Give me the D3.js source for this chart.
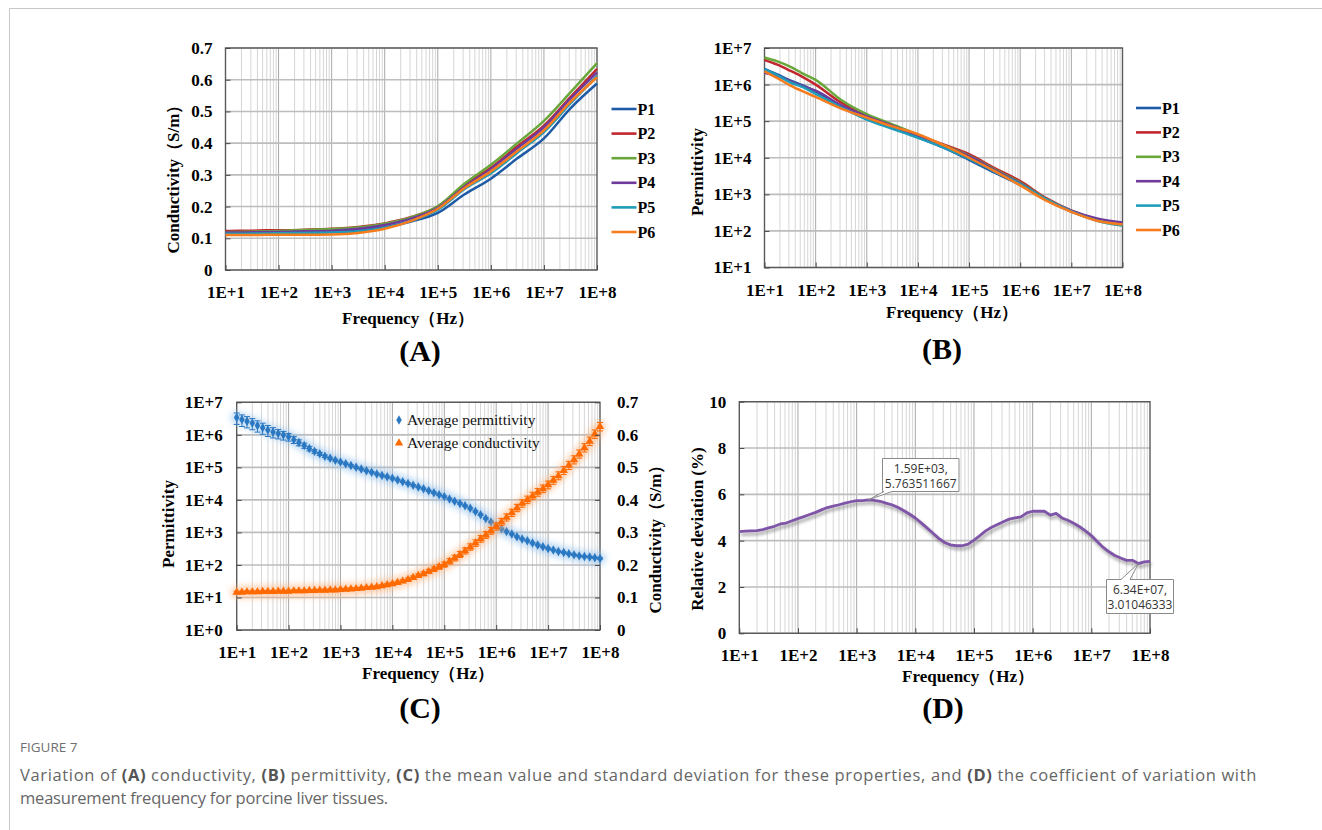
<!DOCTYPE html>
<html><head><meta charset="utf-8">
<script src="https://cdn.jsdelivr.net/npm/d3@7"></script>
<style>body{margin:0;background:#fff}svg{display:block}</style>
</head><body>
<script>
// ---------------- DATA ----------------
const freqAB = [10, 17.8, 31.6, 56.2, 100, 316, 1000, 3162, 1e4, 31623, 1e5, 316228, 1e6, 3162278, 1e7, 31622777, 1e8];
const sampleNames = ["P1","P2","P3","P4","P5","P6"];
const condP1 = [0.120,0.120,0.121,0.121,0.121,0.122,0.122,0.125,0.135,0.153,0.180,0.238,0.288,0.352,0.415,0.510,0.588];
const condP2 = [0.123,0.124,0.124,0.125,0.125,0.127,0.130,0.136,0.147,0.167,0.200,0.268,0.322,0.390,0.455,0.545,0.634];
const condP3 = [0.119,0.120,0.121,0.122,0.123,0.126,0.129,0.134,0.146,0.166,0.201,0.272,0.332,0.400,0.470,0.560,0.652];
const condP4 = [0.118,0.118,0.119,0.120,0.120,0.122,0.124,0.130,0.142,0.162,0.196,0.262,0.318,0.384,0.450,0.540,0.623];
const condP5 = [0.114,0.114,0.115,0.115,0.116,0.117,0.118,0.122,0.133,0.155,0.190,0.255,0.305,0.370,0.435,0.525,0.612];
const condP6 = [0.110,0.110,0.110,0.111,0.111,0.111,0.112,0.117,0.130,0.155,0.193,0.258,0.311,0.375,0.440,0.530,0.608];
const permP1 = [2.7e6,1.9e6,1.3e6,9.5e5,6.5e5,2.6e5,1.15e5,6.5e4,3.6e4,1.9e4,8.8e3,3.9e3,1.8e3,7.2e2,3.4e2,2.0e2,1.5e2];
const permP2 = [4.7e6,3.5e6,2.4e6,1.6e6,1.0e6,3.2e5,1.4e5,7.8e4,4.2e4,2.3e4,1.25e4,5.2e3,2.3e3,8.0e2,3.6e2,2.1e2,1.6e2];
const permP3 = [5.5e6,4.3e6,3.1e6,2.0e6,1.35e6,3.8e5,1.55e5,8.2e4,4.3e4,2.2e4,1.15e4,4.8e3,2.1e3,7.6e2,3.5e2,2.0e2,1.55e2];
const permP4 = [2.1e6,1.7e6,1.25e6,9.0e5,6.8e5,2.7e5,1.35e5,7.5e4,4.0e4,2.1e4,1.1e4,4.6e3,2.0e3,7.4e2,3.6e2,2.2e2,1.7e2];
const permP5 = [2.6e6,1.8e6,1.15e6,8.5e5,5.6e5,2.4e5,1.1e5,6.2e4,3.5e4,1.9e4,9.5e3,4.2e3,1.9e3,7.4e2,3.4e2,1.9e2,1.4e2];
const permP6 = [2.3e6,1.5e6,9.5e5,6.5e5,4.6e5,2.2e5,1.25e5,7.2e4,4.4e4,2.2e4,1.0e4,4.3e3,1.75e3,6.8e2,3.3e2,1.9e2,1.5e2];

const freqCD = [
 1e1,1.26e1,1.58e1,2e1,2.51e1,3.16e1,3.98e1,5.01e1,6.31e1,7.94e1,
 1e2,1.26e2,1.58e2,2e2,2.51e2,3.16e2,3.98e2,5.01e2,6.31e2,7.94e2,
 1e3,1.26e3,1.59e3,2e3,2.51e3,3.16e3,3.98e3,5.01e3,6.31e3,7.94e3,
 1e4,1.26e4,1.58e4,2e4,2.51e4,3.16e4,3.98e4,5.01e4,6.31e4,7.94e4,
 1e5,1.26e5,1.58e5,2e5,2.51e5,3.16e5,3.98e5,5.01e5,6.31e5,7.94e5,
 1e6,1.26e6,1.58e6,2e6,2.51e6,3.16e6,3.98e6,5.01e6,6.31e6,7.94e6,
 1e7,1.26e7,1.58e7,2e7,2.51e7,3.16e7,3.98e7,5.01e7,6.34e7,7.94e7,
 1e8];
const permMean = [
 3.39e6,2.95e6,2.63e6,2.29e6,1.95e6,1.66e6,1.41e6,1.23e6,1.10e6,9.8e5,
 8.7e5,7.1e5,5.8e5,4.7e5,3.8e5,3.1e5,2.6e5,2.2e5,1.9e5,1.66e5,
 1.45e5,1.29e5,1.15e5,1.0e5,8.9e4,7.9e4,7.1e4,6.3e4,5.6e4,5.1e4,
 4.6e4,4.1e4,3.6e4,3.2e4,2.8e4,2.5e4,2.2e4,1.9e4,1.66e4,1.45e4,
 1.26e4,1.07e4,9.1e3,7.8e3,6.6e3,5.5e3,4.4e3,3.5e3,2.7e3,2.1e3,
 1.6e3,1.29e3,1.07e3,890,740,630,550,470,410,360,
 320,290,260,240,220,204,190,182,174,166,
 158];
const permSD = [
 1.3e6,1.15e6,1.0e6,8.6e5,7.4e5,6.2e5,5.2e5,4.3e5,3.5e5,2.9e5,
 2.3e5,1.7e5,1.2e5,8.5e4,6.0e4,4.0e4,2.8e4,2.0e4,1.4e4,1.0e4,
 8.0e3,7.0e3,6.2e3,5.4e3,4.8e3,4.3e3,3.8e3,3.4e3,3.0e3,2.7e3,
 2.4e3,2.1e3,1.8e3,1.6e3,1.4e3,1.25e3,1.1e3,950,830,730,
 630,540,460,390,330,280,230,180,140,110,
 85,68,56,46,38,32,28,24,21,18,
 16,14,13,12,11,10,9.5,9,8.5,8.3,
 8];
const condMean = [
 0.116,0.116,0.117,0.117,0.117,0.118,0.118,0.118,0.119,0.119,
 0.119,0.120,0.120,0.120,0.121,0.121,0.122,0.122,0.123,0.123,
 0.124,0.125,0.126,0.127,0.128,0.130,0.131,0.133,0.136,0.139,
 0.142,0.146,0.150,0.155,0.161,0.167,0.173,0.180,0.187,0.194,
 0.201,0.211,0.221,0.232,0.243,0.255,0.267,0.280,0.292,0.305,
 0.318,0.332,0.346,0.360,0.375,0.389,0.400,0.412,0.423,0.434,
 0.446,0.460,0.474,0.490,0.506,0.523,0.541,0.560,0.580,0.602,
 0.625];
const condSD = [
 0.003,0.003,0.003,0.003,0.003,0.003,0.003,0.003,0.003,0.003,
 0.003,0.003,0.003,0.003,0.003,0.003,0.003,0.003,0.003,0.003,
 0.0035,0.0035,0.0035,0.0035,0.0035,0.0035,0.0035,0.0035,0.0035,0.0035,
 0.004,0.0042,0.0045,0.0048,0.005,0.0055,0.006,0.0065,0.007,0.0075,
 0.008,0.0085,0.009,0.0092,0.0095,0.0098,0.010,0.0102,0.0105,0.0105,
 0.011,0.011,0.011,0.0112,0.0112,0.0115,0.0115,0.0115,0.0118,0.0118,
 0.012,0.012,0.0122,0.0122,0.0125,0.0125,0.0125,0.0128,0.0128,0.013,
 0.013];
const relDev = [
 4.39,4.41,4.42,4.43,4.48,4.55,4.62,4.72,4.76,4.86,
 4.95,5.04,5.13,5.22,5.33,5.43,5.49,5.55,5.62,5.68,
 5.73,5.73,5.763511667,5.74,5.70,5.62,5.55,5.44,5.30,5.15,
 4.98,4.77,4.55,4.32,4.10,3.92,3.82,3.78,3.78,3.85,
 4.02,4.22,4.42,4.58,4.70,4.82,4.93,4.98,5.03,5.20,
 5.27,5.27,5.27,5.10,5.18,4.98,4.88,4.75,4.60,4.42,
 4.22,3.96,3.72,3.52,3.36,3.25,3.15,3.15,3.01046333,3.08,
 3.11];

const xTickVals = [1e1,1e2,1e3,1e4,1e5,1e6,1e7,1e8];
const condTicks = [0,0.1,0.2,0.3,0.4,0.5,0.6,0.7];
const permTicksB = [1e1,1e2,1e3,1e4,1e5,1e6,1e7];
const permTicksC = [1e0,1e1,1e2,1e3,1e4,1e5,1e6,1e7];
const devTicks = [0,2,4,6,8,10];
const seriesColors = ["#1f5aa6","#c0282e","#6aa73a","#6e3b9c","#1e9cb8","#f77c1e"];
const blueC = "#2b78c2", orangeC = "#ff6a00", purpleD = "#7f55a8";

// ---------------- SETUP ----------------
const W = 1322, H = 830;
const SERIF = "'Liberation Serif','Times New Roman',serif";
const SANS = "'Open Sans','Noto Sans',sans-serif";
const svg = d3.select("body").append("svg").attr("width", W).attr("height", H);
svg.append("rect").attr("width", W).attr("height", H).attr("fill", "#fff");
const defs = svg.append("defs");
defs.append("filter").attr("id","glow").attr("x","-10%").attr("y","-10%").attr("width","120%").attr("height","120%")
  .append("feGaussianBlur").attr("stdDeviation", 3);
defs.append("filter").attr("id","shadow").attr("x","-10%").attr("y","-20%").attr("width","120%").attr("height","140%")
  .append("feGaussianBlur").attr("stdDeviation", 1.6);

// outer frame
svg.append("line").attr("x1",9.5).attr("x2",W).attr("y1",8.5).attr("y2",8.5).attr("stroke","#c8c8c8");
svg.append("line").attr("x1",9.5).attr("x2",9.5).attr("y1",8.5).attr("y2",H).attr("stroke","#c8c8c8");

const fmtE = d => "1E+" + Math.round(Math.log10(d));

function frame(x, y, yTicks, x0, x1, y0, y1) {
  const g = svg.append("g");
  const minor = x.ticks().filter(d => Math.abs(Math.log10(d) - Math.round(Math.log10(d))) > 1e-6);
  g.selectAll(".mn").data(minor).join("line")
    .attr("x1", d => x(d)).attr("x2", d => x(d)).attr("y1", y0).attr("y2", y1)
    .attr("stroke", "#d6d6d6").attr("stroke-width", 1);
  g.selectAll(".mj").data(xTickVals.slice(1, -1)).join("line")
    .attr("x1", d => x(d)).attr("x2", d => x(d)).attr("y1", y0).attr("y2", y1)
    .attr("stroke", "#a8a8a8").attr("stroke-width", 1);
  g.selectAll(".hz").data(yTicks).join("line")
    .attr("x1", x0).attr("x2", x1).attr("y1", d => y(d)).attr("y2", d => y(d))
    .attr("stroke", "#bdbdbd").attr("stroke-width", 1.6);
  g.append("rect").attr("x", x0).attr("y", y0).attr("width", x1 - x0).attr("height", y1 - y0)
    .attr("fill", "none").attr("stroke", "#5a5a5a").attr("stroke-width", 1.4);
  return g;
}
function styleAxis(sel) {
  sel.select(".domain").remove();
  sel.attr("font-family", SERIF).attr("font-size", 17).attr("font-weight", "bold").attr("color", "#4a4a4a");
  sel.selectAll("text").attr("fill", "#000");
}
function bottomAxis(x, y1) {
  svg.append("g").attr("transform", `translate(0,${y1})`)
    .call(d3.axisBottom(x).tickValues(xTickVals).tickFormat(fmtE).tickSizeInner(-5).tickSizeOuter(0).tickPadding(16))
    .call(styleAxis);
}
function leftAxis(y, x0, ticks, fmt, pad) {
  svg.append("g").attr("transform", `translate(${x0},0)`)
    .call(d3.axisLeft(y).tickValues(ticks).tickFormat(fmt).tickSizeInner(-5).tickSizeOuter(0).tickPadding(pad))
    .call(styleAxis);
}
function label(txt, x, y, size, rot) {
  const t = svg.append("text").attr("x", x).attr("y", y).attr("text-anchor", "middle").attr("dy", "0.35em")
    .attr("font-family", SERIF).attr("font-weight", "bold").attr("font-size", size).attr("fill", "#000").text(txt);
  if (rot) t.attr("transform", `rotate(-90,${x},${y})`);
  return t;
}
function legend(names, colors, lx, ly0, step) {
  names.forEach((n, i) => {
    const yy = ly0 + i * step;
    svg.append("line").attr("x1", lx).attr("x2", lx + 25).attr("y1", yy).attr("y2", yy)
      .attr("stroke", colors[i]).attr("stroke-width", 2.6);
    svg.append("text").attr("x", lx + 26).attr("y", yy).attr("dy", "0.35em").attr("font-family", SERIF)
      .attr("font-weight", "bold").attr("font-size", 16).text(n);
  });
}

// ---------------- PANEL A ----------------
{
  const x0 = 225.5, x1 = 597, y0 = 48, y1 = 270;
  const x = d3.scaleLog().domain([10, 1e8]).range([x0, x1]);
  const y = d3.scaleLinear().domain([0, 0.7]).range([y1, y0]);
  frame(x, y, condTicks, x0, x1, y0, y1);
  const series = [condP1, condP2, condP3, condP4, condP5, condP6];
  const line = d3.line().x((d, i) => x(freqAB[i])).y(d => y(d)).curve(d3.curveMonotoneX);
  series.forEach((s, k) => svg.append("path").attr("d", line(s)).attr("fill", "none")
    .attr("stroke", seriesColors[k]).attr("stroke-width", 2.5));
  bottomAxis(x, y1);
  leftAxis(y, x0, condTicks, d => d === 0 ? "0" : d3.format(".1f")(d), 13);
  legend(sampleNames, seriesColors, 611.5, 109, 24.6);
  label("Frequency\uFF08Hz\uFF09", 408, 318, 17);
  label("Conductivity\uFF08S/m\uFF09", 173, 175, 17, true);
  label("(A)", 420, 350, 30);
}

// ---------------- PANEL B ----------------
{
  const x0 = 764.5, x1 = 1122.5, y0 = 48, y1 = 267.5;
  const x = d3.scaleLog().domain([10, 1e8]).range([x0, x1]);
  const y = d3.scaleLog().domain([10, 1e7]).range([y1, y0]);
  frame(x, y, permTicksB, x0, x1, y0, y1);
  const series = [permP1, permP2, permP3, permP4, permP5, permP6];
  const line = d3.line().x((d, i) => x(freqAB[i])).y(d => y(d)).curve(d3.curveMonotoneX);
  series.forEach((s, k) => svg.append("path").attr("d", line(s)).attr("fill", "none")
    .attr("stroke", seriesColors[k]).attr("stroke-width", 2.5));
  bottomAxis(x, y1);
  leftAxis(y, x0, permTicksB, fmtE, 13);
  legend(sampleNames, seriesColors, 1136, 108, 24.4);
  label("Frequency\uFF08Hz\uFF09", 952, 312, 17);
  label("Permittivity", 697, 172, 17, true);
  label("(B)", 942, 348, 30);
}

// ---------------- PANEL C ----------------
{
  const x0 = 236.7, x1 = 600, y0 = 402.3, y1 = 630;
  const x = d3.scaleLog().domain([10, 1e8]).range([x0, x1]);
  const yL = d3.scaleLog().domain([1, 1e7]).range([y1, y0]);
  const yR = d3.scaleLinear().domain([0, 0.7]).range([y1, y0]);
  frame(x, yL, permTicksC, x0, x1, y0, y1);

  const drawSeries = (mean, sd, ys, color, glowColor, sym, symSize, capW) => {
    const line = d3.line().x((d, i) => x(freqCD[i])).y(d => ys(d));
    svg.append("path").attr("d", line(mean)).attr("fill", "none").attr("stroke", glowColor)
      .attr("stroke-width", 12).attr("stroke-linecap", "round").attr("opacity", 0.6).attr("filter", "url(#glow)");
    const g = svg.append("g");
    mean.forEach((m, i) => {
      const cx = x(freqCD[i]), ya = ys(m + sd[i]), yb = ys(m - sd[i]);
      g.append("line").attr("x1", cx).attr("x2", cx).attr("y1", ya).attr("y2", yb).attr("stroke", color).attr("stroke-width", 1);
      g.append("line").attr("x1", cx - capW).attr("x2", cx + capW).attr("y1", ya).attr("y2", ya).attr("stroke", color).attr("stroke-width", 1);
      g.append("line").attr("x1", cx - capW).attr("x2", cx + capW).attr("y1", yb).attr("y2", yb).attr("stroke", color).attr("stroke-width", 1);
    });
    g.selectAll("path.m").data(mean).join("path")
      .attr("transform", (d, i) => `translate(${x(freqCD[i])},${ys(d)})`)
      .attr("d", d3.symbol(sym, symSize)).attr("fill", color);
  };
  drawSeries(permMean, permSD, yL, blueC, "#8fc0ee", d3.symbolDiamond, 26, 3);
  drawSeries(condMean, condSD, yR, orangeC, "#ffb27a", d3.symbolTriangle, 30, 3);

  bottomAxis(x, y1);
  leftAxis(yL, x0, permTicksC, d => "1E+" + Math.round(Math.log10(d)), 14);
  svg.append("g").attr("transform", `translate(${x1},0)`)
    .call(d3.axisRight(yR).tickValues(condTicks).tickFormat(d => d === 0 ? "0" : d3.format(".1f")(d))
      .tickSizeInner(-5).tickSizeOuter(0).tickPadding(17))
    .call(styleAxis);

  // legend
  svg.append("path").attr("transform", "translate(399,420)").attr("d", d3.symbol(d3.symbolDiamond, 26)()).attr("fill", blueC);
  svg.append("text").attr("x", 407).attr("y", 420).attr("dy", "0.35em").attr("font-family", SERIF)
    .attr("font-size", 15.5).attr("fill", "#111").text("Average permittivity");
  svg.append("path").attr("transform", "translate(399,443)").attr("d", d3.symbol(d3.symbolTriangle, 30)()).attr("fill", orangeC);
  svg.append("text").attr("x", 407).attr("y", 443).attr("dy", "0.35em").attr("font-family", SERIF)
    .attr("font-size", 15.5).attr("fill", "#111").text("Average conductivity");

  label("Frequency\uFF08Hz\uFF09", 428, 673, 17);
  label("Permittivity", 168, 524, 17, true);
  label("Conductivity\uFF08S/m\uFF09", 655, 535, 17, true);
  label("(C)", 420, 707, 30);
}

// ---------------- PANEL D ----------------
{
  const x0 = 739.3, x1 = 1150, y0 = 401.7, y1 = 633.3;
  const x = d3.scaleLog().domain([10, 1e8]).range([x0, x1]);
  const y = d3.scaleLinear().domain([0, 10]).range([y1, y0]);
  frame(x, y, devTicks, x0, x1, y0, y1);
  const line = d3.line().x((d, i) => x(freqCD[i])).y(d => y(d));
  svg.append("path").attr("d", line(relDev)).attr("transform", "translate(1.5,3)").attr("fill", "none")
    .attr("stroke", "#7a7a7a").attr("stroke-width", 3.5).attr("opacity", 0.55).attr("filter", "url(#shadow)");
  svg.append("path").attr("d", line(relDev)).attr("fill", "none").attr("stroke", purpleD)
    .attr("stroke-width", 2.8).attr("stroke-linejoin", "round");
  bottomAxis(x, y1);
  leftAxis(y, x0, devTicks, d => String(d), 13);

  const callout = (idx, bx, by, bw, bh, px1, px2, pointerSide, lines) => {
    const tx = x(freqCD[idx]), ty = y(relDev[idx]);
    let p;
    if (pointerSide === "bottom") {
      p = `M${bx},${by} H${bx + bw} V${by + bh} H${px2} L${tx},${ty} L${px1},${by + bh} H${bx} Z`;
    } else {
      p = `M${bx},${by} H${px1} L${tx},${ty} L${px2},${by} H${bx + bw} V${by + bh} H${bx} Z`;
    }
    svg.append("path").attr("d", p).attr("fill", "#fff").attr("stroke", "#8a8a8a").attr("stroke-width", 1);
    lines.forEach((t, k) => svg.append("text").attr("x", bx + bw / 2).attr("y", by + 10 + k * 15).attr("dy", "0.35em")
      .attr("text-anchor", "middle").attr("font-family", SANS).attr("font-size", 12).attr("fill", "#333").text(t));
  };
  callout(22, 882.5, 458.5, 76.5, 33, 884, 892, "bottom", ["1.59E+03,", "5.763511667"]);
  callout(68, 1106.5, 579.5, 67, 34, 1121, 1130, "top", ["6.34E+07,", "3.01046333"]);

  label("Frequency\uFF08Hz\uFF09", 968, 676, 17);
  label("Relative deviation (%)", 697, 529, 17, true);
  label("(D)", 943, 707, 30);
}

// ---------------- CAPTION ----------------
svg.append("text").attr("x", 20).attr("y", 752).attr("font-family", SANS).attr("font-size", 13.5)
  .attr("fill", "#6f6f6f").text("FIGURE 7");
function fitText(t, target) {
  const w = t.node().getComputedTextLength();
  const n = t.text().length;
  if (n > 1) t.attr("letter-spacing", ((target - w) / n).toFixed(3));
}
const cap1 = svg.append("text").attr("x", 20).attr("y", 781).attr("font-family", SANS).attr("font-size", 16.5).attr("fill", "#666");
[["Variation of ", 0], ["(A)", 1], [" conductivity, ", 0], ["(B)", 1], [" permittivity, ", 0], ["(C)", 1],
 [" the mean value and standard deviation for these properties, and ", 0], ["(D)", 1], [" the coefficient of variation with", 0]]
  .forEach(([t, b]) => cap1.append("tspan").attr("font-weight", b ? "bold" : "normal").attr("fill", b ? "#555" : "#666").text(t));
fitText(cap1, 1237);
const cap2 = svg.append("text").attr("x", 20).attr("y", 804).attr("font-family", SANS).attr("font-size", 16.5).attr("fill", "#666")
  .text("measurement frequency for porcine liver tissues.");
fitText(cap2, 368);
</script>
</body></html>
